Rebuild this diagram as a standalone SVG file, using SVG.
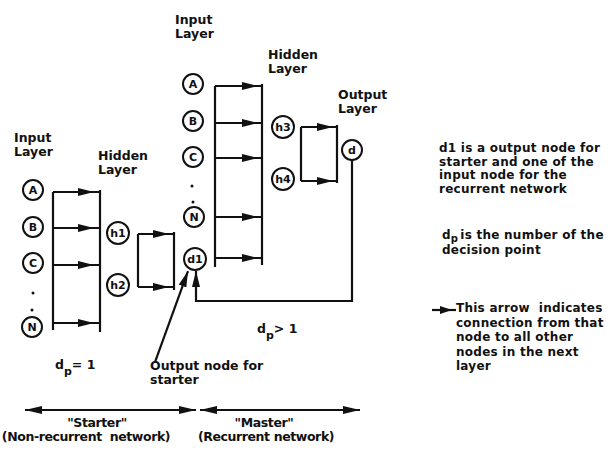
<svg xmlns="http://www.w3.org/2000/svg" width="611" height="452" viewBox="0 0 611 452">
<style>
text{font-family:"DejaVu Sans","Liberation Sans",sans-serif;font-weight:bold;font-size:12.5px;fill:#111;white-space:pre}
.lbl{font-size:11px;text-anchor:middle}
.node circle{fill:#fff;stroke:#111;stroke-width:2}
.c line,.c path{stroke:#111;stroke-width:2.2;fill:none}
.bot{letter-spacing:-0.4px;text-anchor:middle}
.blk{font-size:12px;letter-spacing:0.25px}
</style>
<defs>
<marker id="ah" markerUnits="userSpaceOnUse" markerWidth="17" markerHeight="9" refX="16" refY="4" orient="auto">
<path d="M0,0 L16,4 L0,8 Z" fill="#111"/>
</marker>
<marker id="ah2" markerUnits="userSpaceOnUse" markerWidth="18" markerHeight="9" refX="17" refY="4" orient="auto-start-reverse">
<path d="M0,0 L17,4 L0,8 Z" fill="#111"/>
</marker>
<marker id="ahs" markerUnits="userSpaceOnUse" markerWidth="13" markerHeight="9" refX="12" refY="4" orient="auto">
<path d="M0,0 L12,4 L0,8 Z" fill="#111"/>
</marker>
</defs>
<rect width="611" height="452" fill="#fff"/>

<!-- layer labels -->
<text x="14" y="142">Input</text><text x="14" y="156">Layer</text>
<text x="98" y="160">Hidden</text><text x="98" y="174">Layer</text>
<text x="175" y="24">Input</text><text x="175" y="38">Layer</text>
<text x="268" y="59">Hidden</text><text x="268" y="73">Layer</text>
<text x="338" y="99">Output</text><text x="338" y="113">Layer</text>

<!-- connectors -->
<g id="connectors" class="c">
<!-- starter input bus -->
<line x1="53" y1="192" x2="53" y2="330"/>
<line x1="100" y1="190" x2="100" y2="332"/>
<path d="M53,192 H94 H100" marker-mid="url(#ah)"/>
<path d="M53,228 H94 H100" marker-mid="url(#ah)"/>
<path d="M53,265 H94 H100" marker-mid="url(#ah)"/>
<path d="M53,323 H94 H100" marker-mid="url(#ah)"/>
<!-- starter hidden to d1 -->
<line x1="138" y1="234" x2="138" y2="287"/>
<line x1="174" y1="232" x2="174" y2="290"/>
<path d="M138,234 H169 H174" marker-mid="url(#ah)"/>
<path d="M138,287 H169 H174" marker-mid="url(#ah)"/>
<!-- master input bus -->
<line x1="215" y1="86" x2="215" y2="267"/>
<line x1="262" y1="84" x2="262" y2="265"/>
<path d="M215,86 H258 H262" marker-mid="url(#ah)"/>
<path d="M215,123 H258 H262" marker-mid="url(#ah)"/>
<path d="M215,158 H258 H262" marker-mid="url(#ah)"/>
<path d="M215,217 H258 H262" marker-mid="url(#ah)"/>
<path d="M215,258 H258 H262" marker-mid="url(#ah)"/>
<!-- master hidden to d -->
<line x1="301" y1="127" x2="301" y2="181"/>
<line x1="337" y1="125" x2="337" y2="183"/>
<path d="M301,127 H333 H337" marker-mid="url(#ah)"/>
<path d="M301,181 H333 H337" marker-mid="url(#ah)"/>
<!-- feedback d -> d1 -->
<path d="M352,160 V301 H196 V271" marker-end="url(#ah)"/>
<!-- output node pointer -->
<path d="M155,362 L188,271" marker-end="url(#ah)"/>
<!-- bottom double arrows -->
<path d="M25,410 H196" marker-start="url(#ah2)" marker-end="url(#ah2)"/>
<path d="M200,410 H360" marker-start="url(#ah2)" marker-end="url(#ah2)"/>
<!-- legend arrow -->
<path d="M432,310 H452 H456" marker-mid="url(#ahs)"/>
</g>

<!-- starter nodes -->
<g id="sA" class="node"><circle cx="33" cy="190" r="10"/><text class="lbl" x="33" y="194">A</text></g>
<g id="sB" class="node"><circle cx="33" cy="227" r="10"/><text class="lbl" x="33" y="231">B</text></g>
<g id="sC" class="node"><circle cx="33" cy="263" r="10"/><text class="lbl" x="33" y="267">C</text></g>
<g id="sDots"><circle cx="33" cy="293" r="1.5" fill="#111"/><circle cx="32" cy="310" r="1.5" fill="#111"/></g>
<g id="sN" class="node"><circle cx="32" cy="327" r="10"/><text class="lbl" x="32" y="331">N</text></g>
<g id="h1" class="node"><circle cx="118" cy="233" r="11"/><text class="lbl" x="118" y="237">h1</text></g>
<g id="h2" class="node"><circle cx="118" cy="285" r="11"/><text class="lbl" x="118" y="289">h2</text></g>

<!-- master nodes -->
<g id="mA" class="node"><circle cx="193" cy="84" r="10"/><text class="lbl" x="193" y="88">A</text></g>
<g id="mB" class="node"><circle cx="193" cy="121" r="10"/><text class="lbl" x="193" y="125">B</text></g>
<g id="mC" class="node"><circle cx="193" cy="157" r="10"/><text class="lbl" x="193" y="161">C</text></g>
<g id="mDots"><circle cx="192" cy="186" r="1.5" fill="#111"/><circle cx="193" cy="202" r="1.5" fill="#111"/></g>
<g id="mN" class="node"><circle cx="194" cy="217" r="10"/><text class="lbl" x="194" y="221">N</text></g>
<g id="d1" class="node"><circle cx="195" cy="259" r="11"/><text class="lbl" x="195" y="263">d1</text></g>
<g id="h3" class="node"><circle cx="283" cy="127" r="11"/><text class="lbl" x="283" y="131">h3</text></g>
<g id="h4" class="node"><circle cx="283" cy="179" r="11"/><text class="lbl" x="283" y="183">h4</text></g>
<g id="d" class="node"><circle cx="352" cy="150" r="10"/><text class="lbl" x="352" y="154">d</text></g>

<!-- annotations -->
<text x="55" y="369">d<tspan dy="6" font-size="11">p</tspan><tspan dy="-6">= 1</tspan></text>
<text x="257" y="333">d<tspan dy="6" font-size="11">p</tspan><tspan dy="-6">&gt; 1</tspan></text>
<text x="150" y="370">Output node for</text>
<text x="150" y="384">starter</text>

<text class="blk" x="439" y="152">d1 is a output node for</text>
<text class="blk" x="439" y="165.5">starter and one of the</text>
<text class="blk" x="439" y="179">input node for the</text>
<text class="blk" x="439" y="192.5">recurrent network</text>

<text class="blk" x="442" y="239">d<tspan dy="3" font-size="10">p</tspan><tspan dy="-3" dx="2">is the number of the</tspan></text>
<text class="blk" x="442" y="254">decision point</text>

<text class="blk" x="456" y="312">This arrow  indicates</text>
<text class="blk" x="456" y="326.5">connection from that</text>
<text class="blk" x="456" y="341">node to all other</text>
<text class="blk" x="456" y="355.5">nodes in the next</text>
<text class="blk" x="456" y="370">layer</text>

<text class="bot" x="97" y="427">"Starter"</text>
<text class="bot" x="86" y="441">(Non-recurrent  network)</text>
<text class="bot" x="264" y="427">"Master"</text>
<text class="bot" x="266" y="441">(Recurrent network)</text>
</svg>
